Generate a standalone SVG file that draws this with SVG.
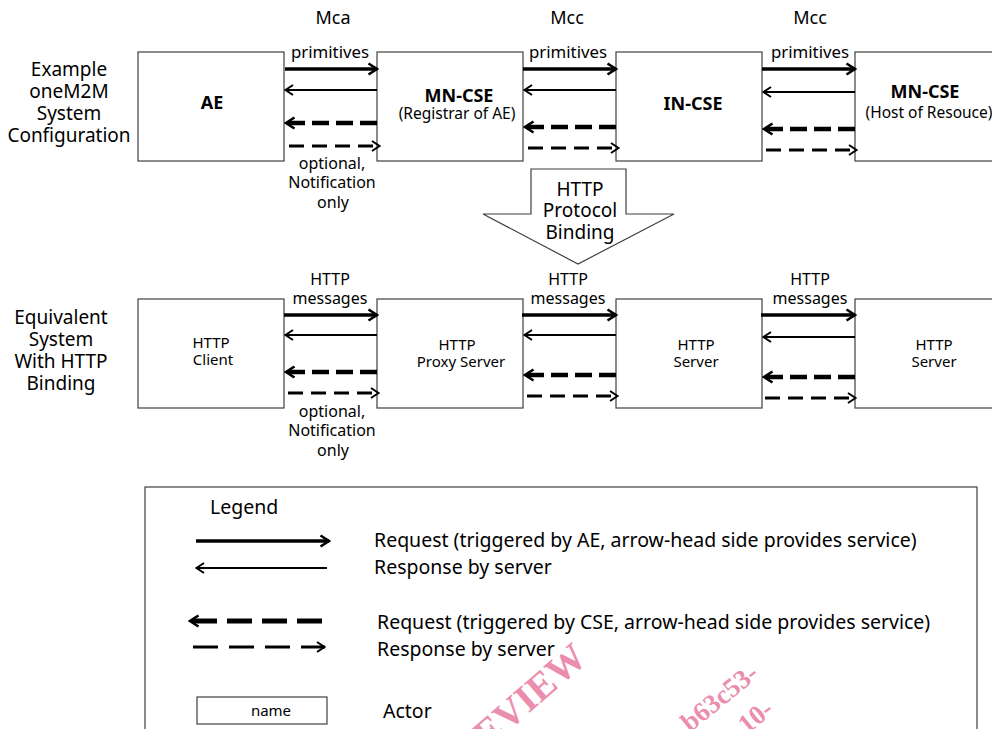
<svg xmlns="http://www.w3.org/2000/svg" width="992" height="729" viewBox="0 0 992 729">
<defs>
<style>
text{font-family:"Noto Sans","Liberation Sans",sans-serif;fill:#000}
.box{fill:#fff;stroke:#404040;stroke-width:1.2}
.t16{font-size:16px;text-anchor:middle}
.pr{font-size:16.8px;text-anchor:middle}
.t15{font-size:15px;text-anchor:middle}
.sub{font-size:15.5px;text-anchor:middle}
.t18{font-size:18px;text-anchor:middle}
.t19{font-size:19px;text-anchor:middle}
.b{font-weight:bold;font-size:18px;text-anchor:middle}
.lg{font-size:19.5px}
.req{stroke:#000;stroke-width:3.5;fill:none;marker-end:url(#ahB)}
.rsp{stroke:#000;stroke-width:2;fill:none;marker-end:url(#ahT)}
.dreq{stroke:#000;stroke-width:4.5;fill:none;stroke-dasharray:17 7;marker-end:url(#ahB)}
.drsp{stroke:#000;stroke-width:3;fill:none;stroke-dasharray:15 8;marker-end:url(#ahT)}
.wm{font-family:"Liberation Serif",serif;font-weight:bold;fill:#e8789e;fill-opacity:0.85}
</style>
<marker id="ahB" viewBox="0 0 12 14" refX="10" refY="7" markerWidth="12" markerHeight="14" markerUnits="userSpaceOnUse" orient="auto">
<path d="M1.5,1.5 L10,7 L1.5,12.5" fill="none" stroke="#000" stroke-width="2.6"/>
</marker>
<marker id="ahT" viewBox="0 0 12 14" refX="10" refY="7" markerWidth="12" markerHeight="14" markerUnits="userSpaceOnUse" orient="auto">
<path d="M2,2 L9.5,7 L2,12" fill="none" stroke="#000" stroke-width="2"/>
</marker>
</defs>

<!-- interface labels -->
<g id="labels">
<text class="t18" x="333" y="24">Mca</text>
<text class="t18" x="567" y="24">Mcc</text>
<text class="t18" x="810" y="24">Mcc</text>
<text class="t19" x="69" y="76">Example</text>
<text class="t19" x="69" y="98">oneM2M</text>
<text class="t19" x="69" y="120">System</text>
<text class="t19" x="69" y="142">Configuration</text>
<text class="t19" x="61" y="324">Equivalent</text>
<text class="t19" x="61" y="346">System</text>
<text class="t19" x="61" y="368">With HTTP</text>
<text class="t19" x="61" y="390">Binding</text>
<text class="pr" x="330" y="58">primitives</text>
<text class="pr" x="568" y="58">primitives</text>
<text class="pr" x="810" y="58">primitives</text>
<text class="t16" x="332" y="169">optional,</text>
<text class="t16" x="332" y="188">Notification</text>
<text class="t16" x="333" y="208">only</text>
<text class="t16" x="330" y="285">HTTP</text>
<text class="t16" x="330" y="304">messages</text>
<text class="t16" x="568" y="285">HTTP</text>
<text class="t16" x="568" y="304">messages</text>
<text class="t16" x="810" y="285">HTTP</text>
<text class="t16" x="810" y="304">messages</text>
<text class="t16" x="332" y="417">optional,</text>
<text class="t16" x="332" y="436">Notification</text>
<text class="t16" x="333" y="456">only</text>
</g>

<!-- top row nodes -->
<g id="ae"><rect class="box" x="138" y="52" width="146" height="109"/><text class="b" x="212" y="109">AE</text></g>
<g id="mncse1"><rect class="box" x="377" y="52" width="146" height="109"/><text class="b" x="459" y="102">MN-CSE</text><text class="sub" x="457" y="119">(Registrar of AE)</text></g>
<g id="incse"><rect class="box" x="616" y="52" width="146" height="109"/><text class="b" x="693" y="110">IN-CSE</text></g>
<g id="mncse2"><rect class="box" x="855" y="52" width="146" height="109"/><text class="b" x="925" y="98">MN-CSE</text><text class="sub" x="929" y="118">(Host of Resouce)</text></g>

<!-- binding arrow -->
<g id="binding">
<polygon points="531,169 626,169 626,214 674,214 578,264 483,214 531,214" fill="#fff" stroke="#404040" stroke-width="1.2"/>
<text class="t19" x="580" y="196">HTTP</text>
<text class="t19" x="580" y="217">Protocol</text>
<text class="t19" x="580" y="239">Binding</text>
</g>

<!-- bottom row nodes -->
<g id="client"><rect class="box" x="138" y="299" width="146" height="109"/><text class="t15" x="211" y="348">HTTP</text><text class="t15" x="213" y="365">Client</text></g>
<g id="proxy"><rect class="box" x="377" y="299" width="146" height="109"/><text class="t15" x="457" y="350">HTTP</text><text class="t15" x="461" y="367">Proxy Server</text></g>
<g id="server1"><rect class="box" x="616" y="299" width="146" height="109"/><text class="t15" x="696" y="350">HTTP</text><text class="t15" x="696" y="367">Server</text></g>
<g id="server2"><rect class="box" x="855" y="299" width="146" height="109"/><text class="t15" x="934" y="350">HTTP</text><text class="t15" x="934" y="367">Server</text></g>

<!-- connectors -->
<g id="connectors">
<line class="req" x1="285" y1="69" x2="377" y2="69"/>
<line class="rsp" x1="377" y1="90" x2="285" y2="90"/>
<line class="dreq" x1="377" y1="123" x2="286" y2="123"/>
<line class="drsp" x1="289" y1="146" x2="380" y2="146"/>

<line class="req" x1="523" y1="69" x2="616" y2="69"/>
<line class="rsp" x1="616" y1="90" x2="524" y2="90"/>
<line class="dreq" x1="616" y1="127" x2="525" y2="127"/>
<line class="drsp" x1="528" y1="148" x2="619" y2="148"/>

<line class="req" x1="762" y1="69" x2="855" y2="69"/>
<line class="rsp" x1="855" y1="92" x2="763" y2="92"/>
<line class="dreq" x1="855" y1="129" x2="764" y2="129"/>
<line class="drsp" x1="766" y1="150" x2="857" y2="150"/>

<line class="req" x1="284" y1="315" x2="377" y2="315"/>
<line class="rsp" x1="377" y1="335" x2="285" y2="335"/>
<line class="dreq" x1="377" y1="372" x2="286" y2="372"/>
<line class="drsp" x1="288" y1="393" x2="379" y2="393"/>

<line class="req" x1="522" y1="315" x2="616" y2="315"/>
<line class="rsp" x1="616" y1="335" x2="524" y2="335"/>
<line class="dreq" x1="616" y1="375" x2="525" y2="375"/>
<line class="drsp" x1="527" y1="396" x2="618" y2="396"/>

<line class="req" x1="761" y1="315" x2="855" y2="315"/>
<line class="rsp" x1="855" y1="337" x2="763" y2="337"/>
<line class="dreq" x1="855" y1="377" x2="764" y2="377"/>
<line class="drsp" x1="765" y1="398" x2="856" y2="398"/>
</g>

<!-- legend -->
<g id="legend">
<rect x="145" y="487" width="832" height="260" fill="#fff" stroke="#404040" stroke-width="1.2"/>
<text class="lg" x="210" y="514">Legend</text>
<line class="req" x1="196" y1="541" x2="329" y2="541"/>
<line class="rsp" x1="327" y1="568" x2="196" y2="568"/>
<line x1="322" y1="621" x2="190" y2="621" stroke="#000" stroke-width="5" stroke-dasharray="25 10" marker-end="url(#ahB)"/>
<line x1="193" y1="647" x2="325" y2="647" stroke="#000" stroke-width="3" stroke-dasharray="25 11" marker-end="url(#ahT)"/>
<rect x="197" y="697" width="130" height="27" fill="#fff" stroke="#404040" stroke-width="1.2"/>
<text class="t15" x="271" y="716">name</text>
<text class="lg" x="374" y="547">Request (triggered by AE, arrow-head side provides service)</text>
<text class="lg" x="374" y="574">Response by server</text>
<text class="lg" x="377" y="629">Request (triggered by CSE, arrow-head side provides service)</text>
<text class="lg" x="377" y="656">Response by server</text>
<text class="lg" x="383" y="718">Actor</text>
</g>

<!-- watermark -->
<g id="watermark">
<text class="wm" font-size="39" text-anchor="end" transform="translate(589,661) rotate(-41)">PREVIEW</text>
<text class="wm" font-size="27" text-anchor="end" transform="translate(760,676) rotate(-39)">b63c53-</text>
<text class="wm" font-size="27" text-anchor="end" transform="translate(775,712) rotate(-39)">10-</text>
</g>
</svg>
